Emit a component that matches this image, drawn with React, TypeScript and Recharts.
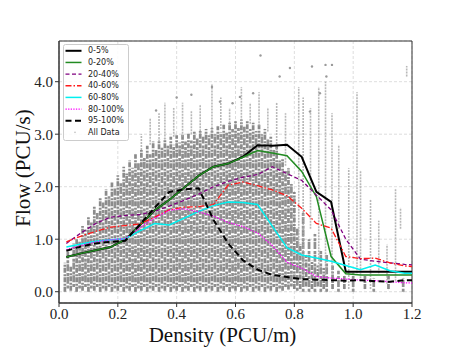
import React from 'react';
import {
  ComposedChart,
  Line,
  Scatter,
  ErrorBar,
  XAxis,
  YAxis,
  CartesianGrid,
  ReferenceArea,
  Legend,
  Label,
} from 'recharts';

// ---------------- data ----------------
const densities = [
  0.025, 0.075, 0.125, 0.175, 0.225, 0.275, 0.325, 0.375, 0.425, 0.475, 0.525, 0.575,
  0.625, 0.675, 0.725, 0.775, 0.825, 0.875, 0.925, 0.975, 1.025, 1.075, 1.125, 1.175, 1.225,
];

const flow0to5 = [
  0.66, 0.73, 0.79, 0.85, 0.99, 1.27, 1.55, 1.75, 1.98, 2.21, 2.38, 2.44,
  2.57, 2.79, 2.78, 2.80, 2.57, 1.90, 1.71, 0.38, 0.38, 0.38, 0.38, 0.38, 0.38,
];
const flow0to20 = [
  0.66, 0.73, 0.79, 0.85, 0.99, 1.27, 1.55, 1.75, 1.98, 2.21, 2.38, 2.44,
  2.56, 2.69, 2.64, 2.59, 2.29, 1.81, 0.67, 0.34, 0.32, 0.32, 0.32, 0.32, 0.32,
];
const flow20to40 = [
  0.92, 1.12, 1.30, 1.42, 1.45, 1.47, 1.53, 1.63, 1.74, 1.86, 2.00, 2.10,
  2.18, 2.23, 2.38, 2.25, 2.12, 1.84, 1.56, 1.00, 0.62, 0.58, 0.55, 0.52, 0.50,
];
const flow40to60 = [
  0.95, 1.06, 1.15, 1.23, 1.26, 1.29, 1.42, 1.56, 1.61, 1.62, 1.66, 2.03,
  2.09, 2.02, 1.94, 1.83, 1.59, 1.30, 1.21, 0.67, 0.63, 0.64, 0.55, 0.49, 0.47,
];
const flow60to80 = [
  0.85, 0.91, 0.96, 0.99, 1.01, 1.16, 1.30, 1.27, 1.40, 1.53, 1.64, 1.71,
  1.70, 1.66, 1.25, 0.84, 0.70, 0.64, 0.58, 0.50, 0.42, 0.51, 0.40, 0.35, 0.35,
];
const flow80to100 = [
  0.80, 0.88, 0.95, 0.99, 1.01, 1.22, 1.40, 1.55, 1.58, 1.52, 1.44, 1.32,
  1.24, 1.12, 0.88, 0.56, 0.45, 0.29, 0.26, 0.24, 0.22, 0.21, 0.19, 0.17, 0.16,
];
const flow95to100 = [
  0.78, 0.86, 0.92, 0.95, 0.97, 1.28, 1.60, 1.90, 1.95, 1.97, 1.37, 0.92,
  0.60, 0.42, 0.32, 0.28, 0.24, 0.23, 0.22, 0.21, 0.22, 0.20, 0.19, 0.22, 0.22,
];

// All Data: dense vertical streaks [density, flowLow, flowHigh]
const denseStreaks: [number, number, number][] = [
  [0.02, 0.0, 0.55], [0.03, 0.06, 0.78], [0.04, 0.02, 0.48], [0.05, 0.09, 0.92],
  [0.06, 0.0, 1.02], [0.07, 0.06, 0.95], [0.08, 0.02, 1.25], [0.09, 0.09, 1.18],
  [0.1, 0.0, 1.42], [0.11, 0.06, 1.35], [0.12, 0.02, 1.62], [0.13, 0.09, 1.5],
  [0.14, 0.0, 1.78], [0.15, 0.06, 1.7], [0.16, 0.02, 1.95], [0.17, 0.09, 1.82],
  [0.18, 0.0, 2.08], [0.19, 0.06, 1.98], [0.2, 0.02, 2.22], [0.21, 0.09, 2.1],
  [0.22, 0.0, 2.38], [0.23, 0.06, 2.25], [0.24, 0.02, 2.5], [0.25, 0.09, 2.36],
  [0.26, 0.0, 2.62], [0.27, 0.06, 2.45], [0.28, 0.02, 2.7], [0.29, 0.09, 2.58],
  [0.3, 0.0, 2.78], [0.31, 0.06, 2.62], [0.32, 0.02, 2.86], [0.33, 0.09, 2.7],
  [0.34, 0.0, 2.9], [0.35, 0.06, 2.74], [0.36, 0.02, 2.92], [0.37, 0.09, 2.78],
  [0.38, 0.0, 2.95], [0.39, 0.06, 2.8], [0.4, 0.02, 2.98], [0.41, 0.09, 2.84],
  [0.42, 0.0, 3.0], [0.43, 0.06, 2.86], [0.44, 0.02, 3.02], [0.45, 0.09, 2.88],
  [0.46, 0.0, 3.05], [0.47, 0.06, 2.92], [0.48, 0.02, 3.06], [0.49, 0.09, 2.95],
  [0.5, 0.0, 3.1], [0.51, 0.06, 2.98], [0.52, 0.02, 3.12], [0.53, 0.09, 3.0],
  [0.54, 0.0, 3.15], [0.55, 0.06, 3.04], [0.56, 0.02, 3.18], [0.57, 0.09, 3.06],
  [0.58, 0.0, 3.22], [0.59, 0.06, 3.1], [0.6, 0.02, 3.25], [0.61, 0.09, 3.12],
  [0.62, 0.0, 3.28], [0.63, 0.06, 3.14], [0.64, 0.02, 3.26], [0.65, 0.09, 3.1],
  [0.66, 0.0, 3.22], [0.67, 0.06, 3.06], [0.68, 0.02, 3.18], [0.69, 0.09, 3.0],
  [0.7, 0.0, 3.1], [0.71, 0.06, 2.9], [0.72, 0.02, 2.95], [0.73, 0.09, 2.7],
  [0.74, 0.0, 2.8], [0.75, 0.06, 2.5], [0.76, 0.02, 2.55], [0.77, 0.09, 2.3],
  [0.78, 0.04, 2.35], [0.79, 0.1, 2.05], [0.8, 0.05, 1.9], [0.81, 0.02, 1.2],
  [0.82, 0.05, 0.9], [0.83, 0.0, 1.5], [0.84, 0.1, 0.7], [0.85, 0.0, 1.0],
  [0.86, 0.05, 0.6], [0.87, 0.0, 1.1], [0.88, 0.1, 0.5], [0.89, 0.0, 0.8],
  [0.9, 0.05, 0.45], [0.91, 0.0, 0.7], [0.93, 0.05, 0.5], [0.95, 0.0, 0.4],
  [0.97, 0.05, 0.3], [1.0, 0.0, 0.35], [1.04, 0.05, 0.3], [1.07, 0.0, 0.25],
  [1.12, 0.05, 0.3], [1.17, 0.0, 0.25],
];

// All Data: sparse (light) streaks [density, flowLow, flowHigh]
const sparseStreaks: [number, number, number][] = [
  [0.28, 2.7, 3.0], [0.31, 2.8, 3.3], [0.34, 2.85, 3.4], [0.36, 2.9, 3.6],
  [0.39, 2.95, 3.5], [0.42, 2.95, 3.6], [0.45, 3.0, 3.45], [0.48, 3.0, 3.55],
  [0.52, 3.05, 3.95], [0.55, 3.1, 3.7], [0.58, 3.15, 3.5], [0.62, 3.2, 3.9],
  [0.65, 3.2, 3.6], [0.68, 3.15, 3.8], [0.71, 3.05, 3.5], [0.74, 2.7, 3.6],
  [0.77, 2.4, 3.4], [0.815, 0.4, 3.9], [0.83, 0.3, 3.7], [0.855, 1.2, 3.5],
  [0.883, 0.35, 3.9], [0.906, 0.2, 4.0], [0.928, 0.35, 3.4], [0.951, 1.2, 2.8],
  [0.985, 0.05, 2.35], [1.013, 0.35, 3.8], [1.025, 0.2, 2.3], [1.059, 0.05, 1.75],
  [1.087, 0.35, 1.35], [1.115, 0.15, 0.9], [1.144, 0.2, 1.95], [1.161, 1.2, 1.6],
  [1.182, 4.1, 4.3],
];

// All Data: isolated points
const dotDensity = [0.685, 0.75, 0.785, 0.615, 0.66, 0.547, 0.59, 0.853, 0.887, 0.909, 0.906, 0.928, 0.86, 0.52, 0.45, 0.4, 0.33];
const dotFlow = [4.5, 4.1, 4.26, 3.71, 3.78, 3.62, 3.59, 3.43, 3.78, 4.1, 4.32, 4.32, 4.29, 3.9, 3.75, 3.7, 3.45];

const xTicks = [0, 0.2, 0.4, 0.6, 0.8, 1.0, 1.2];
const yTicks = [0, 1, 2, 3, 4];
const seriesNames = ['0-5%', '0-20%', '20-40%', '40-60%', '60-80%', '80-100%', '95-100%'];
const allDataName = 'All Data';

// ---------------- styles ----------------
const seriesValues = [flow0to5, flow0to20, flow20to40, flow40to60, flow60to80, flow80to100, flow95to100];
const seriesStyles = [
  { stroke: '#000000', width: 2, dash: undefined as string | undefined },
  { stroke: '#228b22', width: 1.5, dash: undefined },
  { stroke: '#800080', width: 1.3, dash: '4 2.5' },
  { stroke: '#ff1a1a', width: 1.3, dash: '6 2 1.5 2' },
  { stroke: '#00f0f0', width: 1.5, dash: undefined },
  { stroke: '#ff00ff', width: 1.3, dash: '1.3 1.3' },
  { stroke: '#000000', width: 2, dash: '6 3.5' },
];

const toLine = (vals: number[]) => densities.map((x, i) => ({ x, y: vals[i] }));
const toStreaks = (list: [number, number, number][]) =>
  list.map(([x, lo, hi]) => ({ x, y: lo, err: [0, hi - lo] }));
const denseEven = toStreaks(denseStreaks.filter((_, i) => i % 2 === 0));
const denseOdd = toStreaks(denseStreaks.filter((_, i) => i % 2 === 1));
const dotData = dotDensity.map((x, i) => ({ x, y: dotFlow[i] }));

const serif = 'Liberation Serif, Times New Roman, serif';

const LegendBox = () => (
  <svg width={67} height={98} style={{ display: 'block' }}>
    <rect x={0.5} y={0.5} width={65} height={96} rx={2} fill="#ffffff" fillOpacity={0.85} stroke="#cccccc" />
    {seriesNames.map((name, i) => {
      const cy = 6.8 + i * 11.65;
      const s = seriesStyles[i];
      return (
        <g key={name}>
          <line x1={2.5} x2={18.5} y1={cy} y2={cy} stroke={s.stroke} strokeWidth={s.width} strokeDasharray={s.dash} />
          <text x={25} y={cy} dominantBaseline="central" fontFamily="DejaVu Sans, sans-serif" fontSize={8} fill="#222">
            {name}
          </text>
        </g>
      );
    })}
    <circle cx={12} cy={6.8 + 7 * 11.65} r={0.8} fill="#bbbbbb" />
    <text x={25} y={6.8 + 7 * 11.65} dominantBaseline="central" fontFamily="DejaVu Sans, sans-serif" fontSize={8} fill="#222">
      {allDataName}
    </text>
  </svg>
);

const Empty = () => <g />;

export default function App() {
  return (
    <div style={{ position: 'absolute', left: 0, top: 0, background: '#fff' }}>
      <ComposedChart width={458} height={359} margin={{ top: 41, right: 46, bottom: 0, left: 0 }}>
        <CartesianGrid stroke="#d4d4d4" strokeDasharray="3 2" strokeWidth={0.8} />
        <XAxis
          type="number"
          dataKey="x"
          domain={[0, 1.2]}
          ticks={xTicks}
          allowDataOverflow
          height={56}
          tickFormatter={(v: number) => v.toFixed(1)}
          tick={{ fontFamily: serif, fontSize: 15, fill: '#222' }}
          tickSize={4}
          tickMargin={1}
          stroke="#333"
        >
          <Label
            content={(props: any) => {
              const vb = props.viewBox;
              return (
                <text x={vb.x + vb.width / 2 - 13} y={vb.y + 39} textAnchor="middle" fontFamily={serif} fontSize={21} fill="#111">
                  Density (PCU/m)
                </text>
              );
            }}
          />
        </XAxis>
        <YAxis
          type="number"
          dataKey="y"
          domain={[-0.215, 4.775]}
          ticks={yTicks}
          allowDataOverflow
          width={59}
          tickFormatter={(v: number) => v.toFixed(1)}
          tick={{ fontFamily: serif, fontSize: 15, fill: '#222' }}
          tickSize={4}
          tickMargin={2}
          stroke="#333"
        >
          <Label
            content={(props: any) => {
              const vb = props.viewBox;
              const cx = vb.x + 23;
              const cy = vb.y + vb.height / 2 - 4;
              return (
                <text
                  x={cx}
                  y={cy}
                  transform={`rotate(-90, ${cx}, ${cy})`}
                  textAnchor="middle"
                  dominantBaseline="central"
                  fontFamily={serif}
                  fontSize={21}
                  fill="#111"
                >
                  Flow (PCU/s)
                </text>
              );
            }}
          />
        </YAxis>

        <Scatter name="denseA" data={denseEven} dataKey="y" shape={Empty} isAnimationActive={false} legendType="none">
          <ErrorBar dataKey="err" direction="y" width={0} stroke="#777777" strokeWidth={2.7} strokeOpacity={0.85} strokeDasharray="5 1 2 1.5" isAnimationActive={false} />
        </Scatter>
        <Scatter name="denseB" data={denseOdd} dataKey="y" shape={Empty} isAnimationActive={false} legendType="none">
          <ErrorBar dataKey="err" direction="y" width={0} stroke="#7d7d7d" strokeWidth={2.7} strokeOpacity={0.85} strokeDasharray="3 1.8 7 0.8" isAnimationActive={false} />
        </Scatter>
        <Scatter name="sparse" data={toStreaks(sparseStreaks)} dataKey="y" shape={Empty} isAnimationActive={false} legendType="none">
          <ErrorBar dataKey="err" direction="y" width={0} stroke="#a6a6a6" strokeWidth={1.6} strokeOpacity={0.8} strokeDasharray="2 1" isAnimationActive={false} />
        </Scatter>
        <Scatter
          name="dots"
          data={dotData}
          dataKey="y"
          isAnimationActive={false}
          legendType="none"
          shape={(p: any) => <circle cx={p.cx} cy={p.cy} r={1.2} fill="#9a9a9a" />}
        />

        {seriesNames.map((name, i) => (
          <Line
            key={name}
            name={name}
            data={toLine(seriesValues[i])}
            dataKey="y"
            type="linear"
            stroke={seriesStyles[i].stroke}
            strokeWidth={seriesStyles[i].width}
            strokeDasharray={seriesStyles[i].dash}
            dot={false}
            activeDot={false}
            isAnimationActive={false}
          />
        ))}

        <ReferenceArea x1={0} x2={1.2} y1={-0.215} y2={4.775} fill="none" stroke="#333" strokeWidth={1} ifOverflow="visible" />

        <Legend
          layout="vertical"
          align="center"
          verticalAlign="middle"
          wrapperStyle={{ position: 'absolute', left: 63, top: 44, width: 67, height: 98 }}
          content={() => <LegendBox />}
        />
      </ComposedChart>
    </div>
  );
}
